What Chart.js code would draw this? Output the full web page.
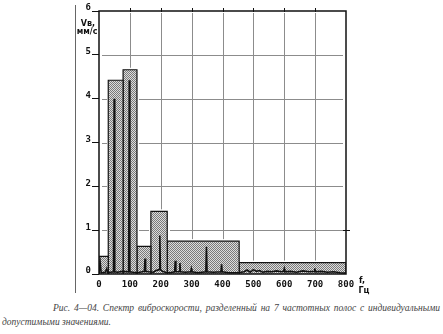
<!DOCTYPE html>
<html>
<head>
<meta charset="utf-8">
<script src="https://cdn.jsdelivr.net/npm/chart.js@4"></script>
<style>
  body{margin:0;background:#fff;width:443px;height:334px;overflow:hidden;position:relative;}
  #c{position:absolute;left:0;top:0;}
  .cap{position:absolute;font-family:"Liberation Serif",serif;font-style:italic;font-size:9.5px;color:#444;white-space:nowrap;}
  #cap1{left:53px;top:303px;width:387px;text-align:justify;text-align-last:justify;}
  #cap2{left:2px;top:317px;}
</style>
</head>
<body>
<canvas id="c" width="443" height="300"></canvas>
<div class="cap" id="cap1">Рис. 4—04. Спектр виброскорости, разделенный на 7 частотных полос с индивидуальными</div>
<div class="cap" id="cap2">допустимыми значениями.</div>
<script>
/* === DATA === */
const bandEdges  = [0, 30, 78, 123, 168, 221, 454, 800];   // Гц
const bandLimits = [0.40, 4.42, 4.66, 0.63, 1.43, 0.75, 0.26]; // мм/с

const specFreq = [0,4,7,20,25,28,47,49,51,60,75,96,98,100,110,124,140,147,149,151,160,176,185,195,197,199,205,215,230,245,247,249,260,262,264,280,297,299,301,320,346,348,350,370,395,397,399,420,450,470,480,490,500,510,520,530,545,560,575,590,598,600,602,620,640,660,680,697,699,701,720,740,760,780,800];
const specAmp  = [0.02,0.25,0.03,0.04,0.12,0.03,0.05,4.0,0.05,0.04,0.06,0.05,4.42,0.05,0.04,0.03,0.05,0.06,0.35,0.06,0.05,0.04,0.08,0.1,0.88,0.1,0.06,0.04,0.03,0.05,0.3,0.05,0.05,0.25,0.05,0.04,0.05,0.12,0.05,0.03,0.05,0.62,0.05,0.04,0.05,0.22,0.05,0.03,0.03,0.05,0.09,0.04,0.1,0.06,0.08,0.04,0.06,0.05,0.07,0.05,0.06,0.12,0.05,0.06,0.04,0.07,0.05,0.06,0.13,0.05,0.06,0.04,0.05,0.03,0.02];

const xTicks = [0,100,200,300,400,500,600,700,800];
const yTicks = [0,1,2,3,4,5,6];

/* === STIPPLE PATTERN === */
function stipple(){
  const p = document.createElement("canvas"); p.width = 2; p.height = 2;
  const g = p.getContext("2d");
  g.fillStyle = "#dcdcdc"; g.fillRect(0,0,2,2);
  g.fillStyle = "#7a7a7a"; g.fillRect(0,0,1,1); g.fillRect(1,1,1,1);
  return g.createPattern(p, "repeat");
}

/* === DATASETS === */
const fillPat = stipple();
const datasets = [{
  data: specFreq.map((f,i)=>({x:f, y:specAmp[i]})),
  borderColor:"#111", borderWidth:1.6, pointRadius:0, fill:false, tension:0, order:0
}];
bandLimits.forEach((v,i)=>{
  const a = bandEdges[i], b = bandEdges[i+1];
  datasets.push({
    data:[{x:a,y:0},{x:a,y:v},{x:b,y:v},{x:b,y:0}],
    borderColor:"#111", borderWidth:1.2, backgroundColor:fillPat,
    pointRadius:0, fill:"origin", tension:0, order:1
  });
});

// band limit at a given frequency (grid is hidden behind the bands)
function bandTop(f){
  for(let i=0;i<bandLimits.length;i++) if(f>=bandEdges[i] && f<=bandEdges[i+1]) return bandLimits[i];
  return 0;
}

/* === GRID === */
const gridLines = {
  id:"gridLines",
  afterDatasetsDraw(chart){
    const ctx = chart.ctx, a = chart.chartArea, xs = chart.scales.x, ys = chart.scales.y;
    ctx.save();
    ctx.strokeStyle = "#8c8c8c"; ctx.lineWidth = 1;
    for(const t of xTicks.slice(1,-1)){
      const x = Math.round(xs.getPixelForValue(t))+0.5;
      const stop = ys.getPixelForValue(bandTop(t)) - 2;
      ctx.beginPath(); ctx.moveTo(x, a.top+2); ctx.lineTo(x, stop); ctx.stroke();
    }
    for(const t of yTicks.slice(1,-1)){
      const y = Math.round(ys.getPixelForValue(t))+0.5;
      let x0 = null;
      for(let x = Math.ceil(a.left)+1; x <= a.right; x++){
        const free = bandTop(xs.getValueForPixel(x)) < t - 0.02 && x < a.right-1;
        if(free && x0===null) x0 = x;
        if(!free && x0!==null){ ctx.beginPath(); ctx.moveTo(x0+2,y); ctx.lineTo(x-2,y); ctx.stroke(); x0 = null; }
      }
    }
    ctx.restore();
  }
};

/* === DECORATIONS === */
const deco = {
  id:"deco",
  afterDraw(chart){
    const ctx = chart.ctx, a = chart.chartArea, xs = chart.scales.x, ys = chart.scales.y;
    ctx.save();
    // scan border line
    ctx.strokeStyle = "#666"; ctx.lineWidth = 1;
    ctx.beginPath(); ctx.moveTo(75.5,5); ctx.lineTo(75.5,293); ctx.stroke();
    // frame
    ctx.strokeStyle = "#111"; ctx.lineWidth = 1.5;
    ctx.strokeRect(a.left, a.top, a.right-a.left, a.bottom-a.top);
    // top ticks
    ctx.lineWidth = 1;
    xTicks.slice(1,-1).forEach(t=>{
      const x = Math.round(xs.getPixelForValue(t))+0.5;
      ctx.beginPath(); ctx.moveTo(x,a.top-3); ctx.lineTo(x,a.top+1); ctx.stroke();
    });
    // right tick
    const y1 = Math.round(ys.getPixelForValue(1))+0.5;
    ctx.beginPath(); ctx.moveTo(a.right-3,y1); ctx.lineTo(a.right+4,y1); ctx.stroke();
    // axis titles
    ctx.fillStyle = "#111"; ctx.textAlign = "center"; ctx.textBaseline = "middle";
    ctx.font = "bold 8px 'DejaVu Sans'";
    ctx.fillText("Vв,", 88, 24);
    ctx.fillText("мм/с", 87, 32);
    ctx.fillText("f,", 362, 281);
    ctx.fillText("Гц", 364, 291);
    ctx.restore();
  }
};

/* === CHART === */
new Chart(document.getElementById("c").getContext("2d"), {
  type:"line",
  data:{datasets},
  options:{
    responsive:false, animation:false,
    layout:{padding:{left:0,right:97,top:11,bottom:0}},
    plugins:{legend:{display:false}, tooltip:{enabled:false}},
    scales:{
      x:{
        type:"linear", min:0, max:800,
        afterBuildTicks: s=>{ s.ticks = xTicks.map(v=>({value:v})); },
        afterFit: s=>{ s.height = 26; },
        grid:{drawOnChartArea:false, drawTicks:false},
        border:{display:false},
        ticks:{color:"#111", padding:5, maxRotation:0, font:{family:"DejaVu Sans Mono", size:9, weight:"bold"}}
      },
      y:{
        min:0, max:6,
        afterBuildTicks: s=>{ s.ticks = yTicks.map(v=>({value:v})); },
        afterFit: s=>{ s.width = 99; },
        grid:{drawOnChartArea:false, color:"#111", tickLength:7},
        border:{display:false},
        ticks:{color:"#111", padding:1, labelOffset:-3, font:{family:"DejaVu Sans Mono", size:9, weight:"bold"}}
      }
    }
  },
  plugins:[gridLines, deco]
});
</script>
</body>
</html>
